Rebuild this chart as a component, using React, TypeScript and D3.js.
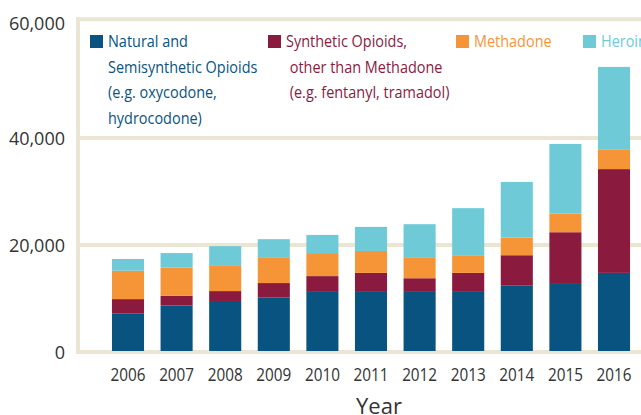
import React from "react";
import * as d3 from "d3";

// values (deaths per year)
const years = ["2006", "2007", "2008", "2009", "2010", "2011", "2012", "2013", "2014", "2015", "2016"];
const natural = [7050, 8500, 9350, 9970, 11200, 11200, 11200, 11200, 12200, 12700, 14600];
const synthetic = [2650, 1800, 1850, 2730, 2800, 3400, 2400, 3400, 5700, 9500, 19400];
const methadone = [5300, 5300, 4700, 4700, 4300, 4100, 3800, 3300, 3300, 3500, 3600];
const heroin = [2200, 2700, 3700, 3500, 3400, 4500, 6300, 8800, 10400, 13000, 15500];

const yTicks = [0, 20000, 40000, 60000];

const seriesKeys = ["natural", "synthetic", "methadone", "heroin"];
const seriesColors = ["#08537f", "#8b1a3f", "#f69537", "#6ecad6"];
const legendLines = [
    ["Natural and", "Semisynthetic Opioids", "(e.g. oxycodone,", "hydrocodone)"],
    ["Synthetic Opioids,", " other than Methadone", " (e.g. fentanyl, tramadol)"],
    ["Methadone"],
    ["Heroin"],
];

const W = 641;
const H = 415;
const beige = "#ebe5d3";
const condensed = 0.85;

export default function App() {
    const rows = years.map((year, i) => ({
        year,
        natural: natural[i],
        synthetic: synthetic[i],
        methadone: methadone[i],
        heroin: heroin[i],
    }));

    const stacked = d3.stack<any>().keys(seriesKeys)(rows);

    const x = d3
        .scaleBand<string>()
        .domain(years)
        .range([103.7, 638.3])
        .paddingInner(0.34)
        .paddingOuter(0.17);

    // axis top (frame) sits a little above the 60,000 mark
    const y = d3.scaleLinear().domain([0, 62000]).range([351, 19.3]);
    const left = 78;
    const frameTop = y(62000);

    // legend slots
    const legendX = [90, 268, 456, 583];
    const legendTop = 35;
    const lineGap = 25.5;

    return (
        <svg
            width={W}
            height={H}
            style={{ position: "absolute", left: 0, top: 0, fontFamily: "'Open Sans', sans-serif" }}
        >
            <rect width={W} height={H} fill="#fff" />

            {/* frame + gridlines */}
            <line x1={left - 2} x2={W} y1={frameTop} y2={frameTop} stroke={beige} strokeWidth={4} />
            <line x1={left} x2={left} y1={frameTop - 2} y2={y(0) + 3} stroke={beige} strokeWidth={4} />
            {yTicks.slice(0, -1).map((t) => (
                <line key={t} x1={left} x2={W} y1={y(t) + 1} y2={y(t) + 1} stroke={beige} strokeWidth={4} />
            ))}

            {/* y labels */}
            {yTicks.map((t, i) => (
                <text
                    key={t}
                    x={65}
                    y={i === yTicks.length - 1 ? frameTop + 4 : y(t) + 1}
                    textAnchor="end"
                    dominantBaseline="central"
                    fontSize={18}
                    fill="#333"
                >
                    {d3.format(",")(t)}
                </text>
            ))}

            {/* bars */}
            {stacked.map((layer, si) => (
                <g key={layer.key} fill={seriesColors[si]}>
                    {layer.map((d, i) => (
                        <rect
                            key={years[i]}
                            x={x(years[i])}
                            width={x.bandwidth()}
                            y={y(d[1])}
                            height={y(d[0]) - y(d[1])}
                        />
                    ))}
                </g>
            ))}

            {/* x labels */}
            {years.map((yr) => (
                <text
                    key={yr}
                    transform={`translate(${(x(yr) as number) + x.bandwidth() / 2},381) scale(${condensed},1)`}
                    textAnchor="middle"
                    fontSize={18}
                    fill="#333"
                >
                    {yr}
                </text>
            ))}
            <text x={379} y={413.5} textAnchor="middle" fontSize={22} fill="#333">
                Year
            </text>

            {/* legend */}
            {legendLines.map((lines, li) => (
                <g key={li}>
                    <rect x={legendX[li]} y={legendTop} width={13} height={13} fill={seriesColors[li]} />
                    {lines.map((ln, k) => (
                        <text
                            key={k}
                            transform={`translate(${legendX[li] + 18},${legendTop + 12 + k * lineGap}) scale(${condensed},1)`}
                            fontSize={17}
                            fill={seriesColors[li]}
                            style={{ whiteSpace: "pre" }}
                        >
                            {ln}
                        </text>
                    ))}
                </g>
            ))}
        </svg>
    );
}
